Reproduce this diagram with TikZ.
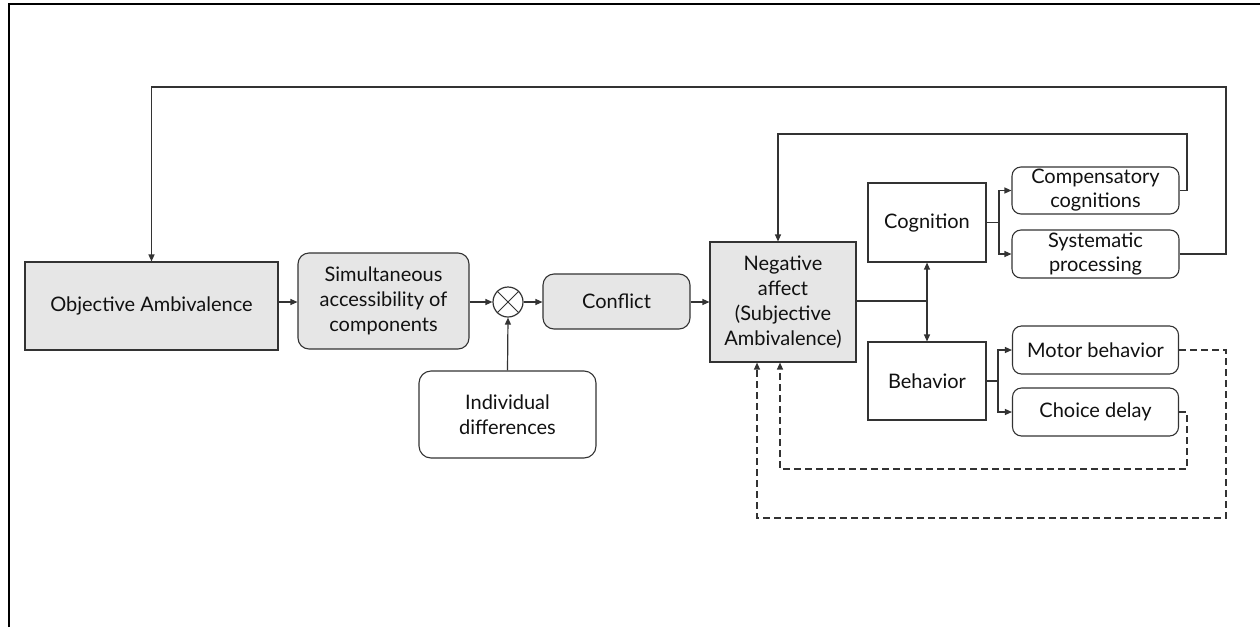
\documentclass[tikz,border=0pt]{standalone}
\usepackage{fontspec}
\setmainfont{Lato}
\usetikzlibrary{arrows.meta}
\definecolor{boxgray}{HTML}{E6E6E6}
\definecolor{linegray}{HTML}{333333}
\definecolor{txt}{HTML}{111111}
\begin{document}
\begin{tikzpicture}[x=1pt,y=-1pt,
  base/.style={draw=linegray,line width=1.1pt,text=txt,align=center,inner sep=2pt,
    font=\fontsize{20}{25}\selectfont},
  grayrect/.style={base,fill=boxgray},
  grayround/.style={base,fill=boxgray,rounded corners=11pt},
  whiterect/.style={base,fill=white},
  whiteround/.style={base,fill=white,rounded corners=9pt},
  conn/.style={draw=linegray,line width=1.2pt},
  arr/.style={conn,-{Triangle[length=7pt,width=6pt]}},
  darr/.style={arr,dash pattern=on 7pt off 4pt}]
\useasboundingbox (0,0) rectangle (1260,627);
\draw[line width=2.6pt,black] (9,627) -- (9,4) -- (1260,4);
% nodes
\node[grayrect,minimum width=253pt,minimum height=88pt] (oa) at (151.5,306) {Objective Ambivalence};
\node[grayround,minimum width=171pt,minimum height=96pt] (sim) at (383.5,301) {Simultaneous\\accessibility of\\components};
\node[draw=linegray,line width=1.2pt,circle,minimum size=30pt,inner sep=0pt,fill=white] (circ) at (508,302) {};
\draw[linegray,line width=1pt] (circ.north west) -- (circ.south east) (circ.north east) -- (circ.south west);
\node[grayround,minimum width=147pt,minimum height=55pt] (conf) at (616.5,301.5) {Conflict};
\node[whiteround,rounded corners=12pt,minimum width=177pt,minimum height=87pt] (ind) at (507.5,414.5) {Individual\\differences};
\node[grayrect,minimum width=146pt,minimum height=120pt] (na) at (783,302) {Negative\\affect\\(Subjective\\Ambivalence)};
\node[whiterect,minimum width=118pt,minimum height=79pt] (cog) at (927,222.5) {Cognition};
\node[whiterect,minimum width=118pt,minimum height=78pt] (beh) at (927,381) {Behavior};
\node[whiteround,minimum width=167pt,minimum height=47pt,font=\fontsize{20}{24}\selectfont] (comp) at (1095.5,190.5) {Compensatory\\cognitions};
\node[whiteround,minimum width=167pt,minimum height=48pt,font=\fontsize{20}{24}\selectfont] (sys) at (1095.5,254) {Systematic\\processing};
\node[whiteround,minimum width=166pt,minimum height=48pt] (mot) at (1095.5,350) {Motor behavior};
\node[whiteround,minimum width=166pt,minimum height=48pt] (cho) at (1095.5,412) {Choice delay};
% main chain
\draw[arr] (oa.east |- circ.center) -- (sim.west |- circ.center);
\draw[arr] (sim.east |- circ.center) -- (circ.west);
\draw[arr] (circ.east) -- (conf.west |- circ.center);
\draw[arr] (ind.north) -- (circ.south);
\draw[arr] (conf.east |- circ.center) -- (na.west |- circ.center);
% cognition / behavior junction
\coordinate (j) at (927,301);
\draw[conn] (na.east |- j) -- (j);
\draw[arr] (j) -- (cog.south);
\draw[arr] (j) -- (beh.north);
% cognition split
\coordinate (cj) at (999,222.5);
\draw[conn] (cog.east) -- (cj);
\draw[arr] (cj) |- (comp.west);
\draw[arr] (cj) |- (sys.west);
% behavior split
\coordinate (bj) at (998,381);
\draw[conn] (beh.east) -- (bj);
\draw[arr] (bj) |- (mot.west);
\draw[arr] (bj) |- (cho.west);
% solid feedbacks
\coordinate (t1) at (1226,87);
\draw[arr] (sys.east) -| (t1) -| (oa.north);
\coordinate (t2) at (1187,134);
\draw[arr] (comp.east) -| (t2) -| ([xshift=-5pt]na.north);
% dashed feedbacks
\coordinate (d1) at (1226,518);
\draw[darr] (mot.east) -| (d1) -| ([xshift=-26pt]na.south);
\coordinate (d2) at (1187,469);
\draw[darr] (cho.east) -| (d2) -| ([xshift=-3pt]na.south);
\end{tikzpicture}
\end{document}
